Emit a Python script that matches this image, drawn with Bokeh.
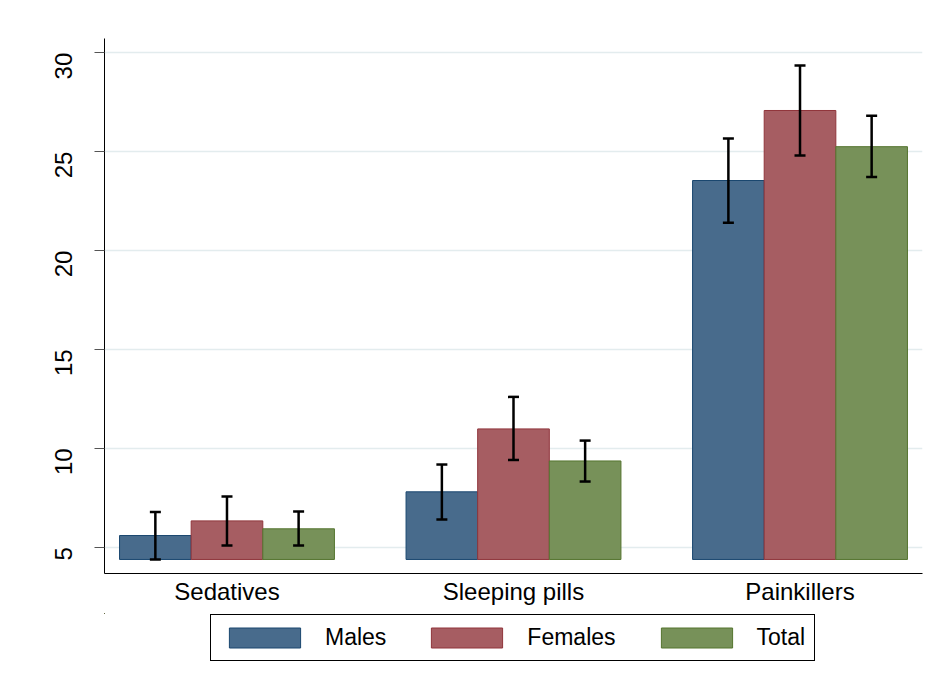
import numpy as np
from bokeh.plotting import figure
from bokeh.layouts import column
from bokeh.models import (ColumnDataSource, Range1d, FixedTicker, Legend, LegendItem,
                          Whisker, TeeHead)
from bokeh.embed import file_html
from bokeh.resources import INLINE

# ---- data ----
categories = ["Sedatives", "Sleeping pills", "Painkillers"]
series_names = ["Males", "Females", "Total"]
males = [5.59, 7.80, 23.54]
females = [6.33, 10.98, 27.08]
total = [5.93, 9.36, 25.25]
males_lo = [4.38, 6.40, 21.40]
males_hi = [6.78, 9.18, 25.66]
females_lo = [5.09, 9.41, 24.80]
females_hi = [7.56, 12.60, 29.35]
total_lo = [5.09, 8.32, 23.72]
total_hi = [6.81, 10.39, 26.82]
y_ticks = [5, 10, 15, 20, 25, 30]
baseline = 4.38

FONT = "Liberation Sans"
fills = ["#486b8c", "#a65d62", "#779159"]
lines = ["#1a476f", "#90353b", "#55752f"]

p = figure(frame_width=818, frame_height=535,
           min_border_left=104, min_border_top=38, min_border_right=5, min_border_bottom=40,
           x_range=Range1d(-0.4275, 2.4275), y_range=Range1d(3.67, 30.72),
           output_backend="svg", toolbar_location=None)
p.background_fill_color = "white"
p.border_fill_color = "white"
p.outline_line_color = None

idx = np.arange(len(categories))
bar_w = 0.25
offsets = [-bar_w, 0.0, bar_w]
vals = [males, females, total]
los = [males_lo, females_lo, total_lo]
his = [males_hi, females_hi, total_hi]

sources = []
for k in range(3):
    src = ColumnDataSource(dict(x=idx + offsets[k], top=vals[k],
                                bottom=[baseline] * len(categories),
                                lo=los[k], hi=his[k]))
    sources.append(src)
    p.vbar(x="x", top="top", bottom="bottom", width=bar_w, source=src,
           fill_color=fills[k], line_color=lines[k], line_width=1)
    w = Whisker(base="x", lower="lo", upper="hi", source=src, dimension="height",
                line_color="black", line_width=2.5, level="overlay",
                upper_head=TeeHead(size=11, line_color="black", line_width=2.5),
                lower_head=TeeHead(size=11, line_color="black", line_width=2.5))
    p.add_layout(w)

# axes
p.yaxis.ticker = FixedTicker(ticks=y_ticks)
p.yaxis.major_label_orientation = np.pi / 2
p.yaxis.major_label_text_font = FONT
p.yaxis.major_label_text_font_size = "24px"
p.yaxis.major_label_text_color = "black"
p.yaxis.major_label_standoff = 31
p.yaxis.axis_line_color = "black"
p.yaxis.axis_line_width = 1
p.yaxis.major_tick_line_color = "#555555"
p.yaxis.major_tick_out = 10
p.yaxis.major_tick_in = 0
p.yaxis.minor_tick_line_color = None

p.xaxis.ticker = FixedTicker(ticks=list(idx))
p.xaxis.major_label_overrides = {int(i): c for i, c in zip(idx, categories)}
p.xaxis.major_label_text_font = FONT
p.xaxis.major_label_text_font_size = "24px"
p.xaxis.major_label_text_color = "black"
p.xaxis.major_label_standoff = 4
p.xaxis.axis_line_color = "black"
p.xaxis.axis_line_width = 1
p.xaxis.major_tick_line_color = None
p.xaxis.major_tick_out = 0
p.xaxis.major_tick_in = 0
p.xaxis.minor_tick_line_color = None

p.xgrid.grid_line_color = None
p.ygrid.ticker = FixedTicker(ticks=y_ticks)
p.ygrid.grid_line_color = "#e3ecee"
p.ygrid.grid_line_width = 1.5

# ---- legend strip (separate figure below the chart; its bars lie far outside its view) ----
lf = figure(width=927, height=63, min_border=0,
            x_range=Range1d(100, 101), y_range=Range1d(-200, -100),
            x_axis_type=None, y_axis_type=None,
            output_backend="svg", toolbar_location=None)
lf.outline_line_color = None
lf.background_fill_color = "white"
lf.border_fill_color = "white"
lf.xgrid.grid_line_color = None
lf.ygrid.grid_line_color = None

items = []
for k in range(3):
    r = lf.vbar(x="x", top="top", bottom="bottom", width=bar_w, source=sources[k],
                fill_color=fills[k], line_color=lines[k], line_width=1)
    items.append(LegendItem(label=series_names[k], renderers=[r]))

legend = Legend(items=items, orientation="horizontal", location=(106, 15),
                glyph_width=89, glyph_height=25, label_standoff=16, spacing=36,
                padding=9, margin=0,
                label_text_font=FONT, label_text_font_size="23px",
                label_text_color="black",
                border_line_color="black", border_line_width=1, border_line_alpha=1,
                background_fill_color="white", background_fill_alpha=1)
lf.add_layout(legend, "center")

layout = column(p, lf, spacing=0)
open("out.html", "w").write(file_html(layout, INLINE))
